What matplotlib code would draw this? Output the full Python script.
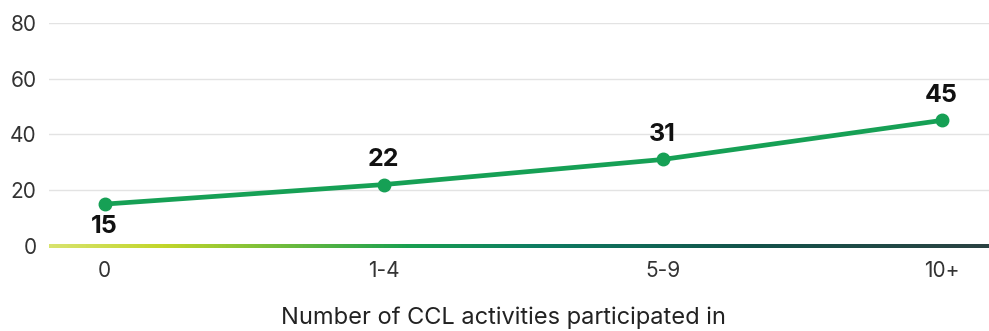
import matplotlib
matplotlib.use("Agg")
import matplotlib.pyplot as plt
import numpy as np
from matplotlib.colors import LinearSegmentedColormap

categories = ["0", "1-4", "5-9", "10+"]
values = [15, 22, 31, 45]
y_ticks = [0, 20, 40, 60, 80]
x_label = "Number of CCL activities participated in"

plt.rcParams['font.family'] = ['Inter', 'DejaVu Sans']

fig = plt.figure(figsize=(9.89, 3.31), dpi=100)
ax = fig.add_axes([0.0495, 0.257, 0.9505, 0.674])

x = np.arange(len(categories))
line_color = "#16a055"
ax.plot(x, values, color=line_color, lw=3.4, marker="o", ms=9,
        solid_capstyle="round", zorder=4)

for xi, v in zip(x, values):
    dy = -21 if xi == 0 else 13.5
    ax.annotate(str(v), (xi, v), xytext=(0, dy), textcoords="offset points",
                ha="center", va="baseline", fontsize=18, fontweight="bold",
                color="#111111")

ax.set_xlim(-0.2, 3.17)
ax.set_ylim(0, 80)
ax.set_yticks(y_ticks)
ax.set_xticks(x)
ax.set_xticklabels(categories)
ax.tick_params(axis="both", length=0, labelsize=15, colors="#333333")
ax.tick_params(axis="x", pad=11)
ax.tick_params(axis="y", pad=9)

for t in y_ticks[1:]:
    ax.axhline(t, color="#e3e3e3", lw=1, zorder=1)

for s in ax.spines.values():
    s.set_visible(False)

# gradient baseline along y = 0
cmap = LinearSegmentedColormap.from_list(
    "base",
    [(0.0, "#d8e36e"), (0.12, "#c2d62a"), (0.38, "#1aa050"),
     (0.52, "#0e7c62"), (0.75, "#13524a"), (1.0, "#2b4242")])
grad = np.linspace(0, 1, 512).reshape(1, -1)
ax.imshow(grad, cmap=cmap, aspect="auto", extent=(-0.2, 3.17, -0.7, 0.7),
          zorder=3, clip_on=False, interpolation="bilinear")
ax.set_xlim(-0.2, 3.17)
ax.set_ylim(0, 80)

fig.text(0.5095, 1 - 318 / 331, x_label, fontsize=17, color="#222222",
         ha="center", va="center")

fig.savefig("out.png", dpi=100, facecolor="white")
